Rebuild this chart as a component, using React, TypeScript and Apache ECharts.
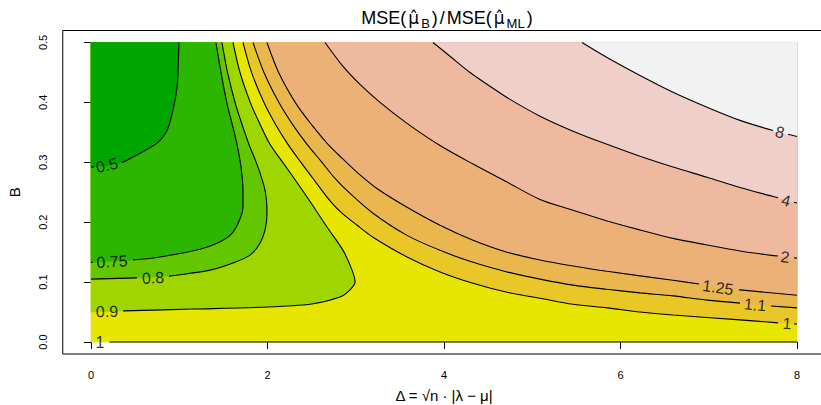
import React, { useEffect, useRef } from "react";
import * as echarts from "echarts";

const FONT = "'Liberation Sans', Arial, Helvetica, sans-serif";
const MARK_FONT = "'DejaVu Sans', 'Liberation Sans', sans-serif";

// Axis definitions (data units)
const X_RANGE: [number, number] = [0, 8];
const Y_RANGE: [number, number] = [0, 0.5];
const X_TICKS = [0, 2, 4, 6, 8];
const Y_TICKS = [0, 0.1, 0.2, 0.3, 0.4, 0.5];

// Contour levels and the terrain colours of the 11 bands between them
const LEVELS = [0.5, 0.75, 0.8, 0.9, 1, 1.1, 1.25, 2, 4, 8];
const BAND_COLORS = [
  "#00A600", "#2DB600", "#63C600", "#A0D600", "#E6E600",
  "#E8C727", "#EAB64E", "#ECB176", "#EEB99F", "#F0CFC8", "#F2F2F2",
];

type P = [number, number];

// Contour lines, [Delta, B]
const CONTOUR_050: P[] = [[0.997, 0.5], [0.986, 0.453], [0.975, 0.425], [0.929, 0.387], [0.861, 0.353], [0.748, 0.332], [0.555, 0.315], [0.363, 0.3], [0.18, 0.294], [0, 0.292]];
const CONTOUR_075: P[] = [[1.416, 0.5], [1.473, 0.45], [1.541, 0.398], [1.603, 0.362], [1.654, 0.33], [1.7, 0.292], [1.722, 0.253], [1.722, 0.225], [1.666, 0.198], [1.575, 0.178], [1.428, 0.165], [1.235, 0.155], [0.782, 0.142], [0.476, 0.137], [0, 0.133]];
const CONTOUR_080: P[] = [[1.484, 0.5], [1.547, 0.45], [1.636, 0.398], [1.714, 0.362], [1.79, 0.33], [1.892, 0.292], [1.972, 0.253], [1.994, 0.215], [1.972, 0.187], [1.915, 0.165], [1.802, 0.145], [1.609, 0.132], [1.348, 0.12], [0.895, 0.11], [0.521, 0.107], [0, 0.105]];
const CONTOUR_090: P[] = [[1.609, 0.5], [1.688, 0.45], [1.81, 0.398], [1.92, 0.362], [2.028, 0.33], [2.221, 0.29], [2.448, 0.242], [2.674, 0.192], [2.856, 0.153], [2.958, 0.12], [2.992, 0.1], [2.935, 0.087], [2.822, 0.075], [2.482, 0.063], [1.915, 0.058], [1.156, 0.055], [0.363, 0.052], [0, 0.05]];
const CONTOUR_100: P[] = [[1.722, 0.5], [1.819, 0.45], [1.965, 0.398], [2.096, 0.362], [2.232, 0.33], [2.368, 0.302], [2.516, 0.273], [2.674, 0.242], [2.822, 0.218], [3.014, 0.195], [3.195, 0.175], [3.581, 0.142], [3.955, 0.117], [4.329, 0.098], [4.714, 0.083], [5.088, 0.073], [5.462, 0.063], [5.847, 0.057], [6.221, 0.05], [6.595, 0.045], [7.354, 0.037], [7.785, 0.032], [8, 0.03]];
const CONTOUR_100_BASE: P[] = [[0, 0], [8, 0]];
const CONTOUR_110: P[] = [[1.836, 0.5], [1.96, 0.45], [2.136, 0.398], [2.289, 0.362], [2.448, 0.33], [2.606, 0.302], [2.754, 0.275], [2.935, 0.248], [3.195, 0.215], [3.581, 0.178], [3.955, 0.153], [4.329, 0.133], [4.714, 0.117], [5.088, 0.105], [5.462, 0.095], [5.847, 0.088], [6.221, 0.082], [6.595, 0.077], [6.98, 0.07], [7.354, 0.065], [7.705, 0.06], [8, 0.057]];
const CONTOUR_125: P[] = [[1.994, 0.5], [2.126, 0.45], [2.323, 0.398], [2.504, 0.362], [2.686, 0.33], [2.844, 0.307], [3.025, 0.282], [3.252, 0.255], [3.581, 0.225], [3.955, 0.195], [4.329, 0.17], [4.714, 0.15], [5.088, 0.137], [5.462, 0.127], [5.847, 0.118], [6.595, 0.103], [7.354, 0.087], [8, 0.078]];
const CONTOUR_200: P[] = [[2.652, 0.5], [2.856, 0.46], [3.048, 0.43], [3.275, 0.4], [3.581, 0.365], [3.955, 0.328], [4.329, 0.297], [4.714, 0.267], [5.088, 0.238], [5.462, 0.22], [5.847, 0.202], [6.221, 0.187], [6.595, 0.173], [6.98, 0.162], [7.354, 0.152], [7.694, 0.145], [8, 0.14]];
const CONTOUR_400: P[] = [[3.875, 0.5], [4.068, 0.477], [4.295, 0.45], [4.521, 0.427], [4.748, 0.405], [5.088, 0.377], [5.462, 0.352], [5.847, 0.33], [6.221, 0.31], [6.595, 0.292], [6.98, 0.275], [7.354, 0.258], [7.728, 0.243], [8, 0.232]];
const CONTOUR_800: P[] = [[5.564, 0.5], [5.847, 0.475], [6.221, 0.445], [6.595, 0.417], [6.98, 0.392], [7.354, 0.37], [7.728, 0.353], [8, 0.343]];

// Inline contour labels: level, text, position, and the gap they cut in the line
const CONTOUR_LABELS = [
  { level: 0.5, text: "0.5", x: 0.181, y: 0.295, gap: [0.034, 0.351] },
  { level: 0.75, text: "0.75", x: 0.238, y: 0.134, gap: [0.02, 0.476] },
  { level: 0.8, text: "0.8", x: 0.703, y: 0.107, gap: [0.521, 0.884] },
  { level: 0.9, text: "0.9", x: 0.181, y: 0.051, gap: [-0.1, 0.363] },
  { level: 1, text: "1", x: 0.102, y: 0.0, gap: [-0.1, 0.21] },
  { level: 1.25, text: "1.25", x: 7.105, y: 0.091, gap: [6.89, 7.343] },
  { level: 1.1, text: "1.1", x: 7.524, y: 0.062, gap: [7.354, 7.705] },
  { level: 1, text: "1", x: 7.887, y: 0.031, gap: [7.785, 7.97] },
  { level: 2, text: "2", x: 7.864, y: 0.142, gap: [7.785, 7.966] },
  { level: 4, text: "4", x: 7.875, y: 0.236, gap: [7.785, 7.966] },
  { level: 8, text: "8", x: 7.807, y: 0.35, gap: [7.728, 7.898] },
];

const CONTOURS: { level: number; pts: P[]; side: "low" | "high" | "none" }[] = [
  { level: 0.5, pts: CONTOUR_050, side: "low" },
  { level: 0.75, pts: CONTOUR_075, side: "low" },
  { level: 0.8, pts: CONTOUR_080, side: "low" },
  { level: 0.9, pts: CONTOUR_090, side: "low" },
  { level: 1, pts: CONTOUR_100, side: "high" },
  { level: 1, pts: CONTOUR_100_BASE, side: "none" },
  { level: 1.1, pts: CONTOUR_110, side: "high" },
  { level: 1.25, pts: CONTOUR_125, side: "high" },
  { level: 2, pts: CONTOUR_200, side: "high" },
  { level: 4, pts: CONTOUR_400, side: "high" },
  { level: 8, pts: CONTOUR_800, side: "high" },
];

// Layout
const W = 821;
const H = 405;
const X_PAD = 0.32;
const Y_PAD = 0.02;
const GRID = { left: 62.76, top: 30.5, width: 762.5, height: 323.5 };
const PX_X = GRID.width / (X_RANGE[1] - X_RANGE[0] + 2 * X_PAD);
const PX_Y = GRID.height / (Y_RANGE[1] - Y_RANGE[0] + 2 * Y_PAD);

function lerp(a: P, b: P, t: number): P {
  return [a[0] + (b[0] - a[0]) * t, a[1] + (b[1] - a[1]) * t];
}

function cutCurve(pts: P[], gaps: { x0: number; x1: number; y: number }[]): P[][] {
  const inGap = (p: P) => gaps.some((g) => p[0] > g.x0 && p[0] < g.x1 && Math.abs(p[1] - g.y) < 0.02);
  const pieces: P[][] = [];
  let cur: P[] = [];
  for (let i = 1; i < pts.length; i++) {
    const a = pts[i - 1];
    const b = pts[i];
    const ts = [0, 1];
    const dx = b[0] - a[0];
    for (const g of gaps) {
      for (const gx of [g.x0, g.x1]) {
        if (dx !== 0) {
          const t = (gx - a[0]) / dx;
          if (t > 1e-6 && t < 1 - 1e-6) ts.push(t);
        }
      }
    }
    ts.sort((u, v) => u - v);
    for (let j = 1; j < ts.length; j++) {
      if (ts[j] - ts[j - 1] < 1e-9) continue;
      const pa = lerp(a, b, ts[j - 1]);
      const pb = lerp(a, b, ts[j]);
      const mid = lerp(a, b, (ts[j - 1] + ts[j]) / 2);
      if (inGap(mid)) {
        if (cur.length > 1) pieces.push(cur);
        cur = [];
      } else {
        if (cur.length === 0) cur.push(pa);
        cur.push(pb);
      }
    }
  }
  if (cur.length > 1) pieces.push(cur);
  return pieces;
}

function labelRotation(lab: { level: number; x: number; y: number }): number {
  let best = 0;
  let bestDist = Infinity;
  for (const c of CONTOURS) {
    if (c.level !== lab.level) continue;
    for (let i = 1; i < c.pts.length; i++) {
      const a = c.pts[i - 1];
      const b = c.pts[i];
      const lo = Math.min(a[0], b[0]);
      const hi = Math.max(a[0], b[0]);
      if (lab.x < lo - 1e-9 || lab.x > hi + 1e-9) continue;
      const d = Math.abs((a[1] + b[1]) / 2 - lab.y);
      if (d < bestDist) {
        bestDist = d;
        const l = a[0] <= b[0] ? a : b;
        const r = a[0] <= b[0] ? b : a;
        const sdx = (r[0] - l[0]) * PX_X;
        const sdy = (r[1] - l[1]) * PX_Y;
        best = (Math.atan2(sdy, sdx) * 180) / Math.PI;
      }
    }
  }
  return best;
}

function buildOption(): any {
  // Fill polygons painted in order (later ones on top)
  const fills: { color: string; pts: P[] }[] = [];
  fills.push({
    color: BAND_COLORS[LEVELS.indexOf(1)],
    pts: [[X_RANGE[0], Y_RANGE[0]], [X_RANGE[1], Y_RANGE[0]], [X_RANGE[1], Y_RANGE[1]], [X_RANGE[0], Y_RANGE[1]]],
  });
  CONTOURS.filter((c) => c.side === "high")
    .sort((a, b) => a.level - b.level)
    .forEach((c) => {
      fills.push({ color: BAND_COLORS[LEVELS.indexOf(c.level) + 1], pts: [...c.pts, [X_RANGE[1], Y_RANGE[1]]] });
    });
  CONTOURS.filter((c) => c.side === "low")
    .sort((a, b) => b.level - a.level)
    .forEach((c) => {
      fills.push({ color: BAND_COLORS[LEVELS.indexOf(c.level)], pts: [...c.pts, [X_RANGE[0], Y_RANGE[1]]] });
    });

  const lineSeries: any[] = [];
  CONTOURS.forEach((c) => {
    const gaps = CONTOUR_LABELS.filter((l) => l.level === c.level).map((l) => ({ x0: l.gap[0], x1: l.gap[1], y: l.y }));
    cutCurve(c.pts, gaps).forEach((piece) => {
      lineSeries.push({
        type: "line",
        data: piece,
        symbol: "none",
        showSymbol: false,
        smooth: 0.3,
        silent: true,
        lineStyle: { color: "#000", width: 1.1 },
        z: 3,
      });
    });
  });

  return {
    animation: false,
    backgroundColor: "#fff",
    grid: {
      left: GRID.left,
      top: GRID.top,
      width: GRID.width,
      height: GRID.height,
      show: true,
      borderColor: "#000",
      borderWidth: 1,
      backgroundColor: "transparent",
      containLabel: false,
      outerBoundsMode: "none",
    },
    xAxis: {
      type: "value",
      min: X_RANGE[0] - X_PAD,
      max: X_RANGE[1] + X_PAD,
      axisLine: { show: false },
      splitLine: { show: false },
      axisTick: { show: true, length: 7, customValues: X_TICKS, lineStyle: { color: "#000", width: 1 } },
      axisLabel: { customValues: X_TICKS, fontSize: 11, color: "#000", fontFamily: FONT, margin: 15 },
      name: "Δ = √n · |λ − μ|",
      nameLocation: "middle",
      nameGap: 34,
      nameTextStyle: { fontSize: 15, color: "#000", fontFamily: FONT },
    },
    yAxis: {
      type: "value",
      min: Y_RANGE[0] - Y_PAD,
      max: Y_RANGE[1] + Y_PAD,
      axisLine: { show: false },
      splitLine: { show: false },
      axisTick: { show: true, length: 7, customValues: Y_TICKS, lineStyle: { color: "#000", width: 1 } },
      axisLabel: {
        customValues: Y_TICKS,
        rotate: 90,
        fontSize: 11,
        color: "#000",
        fontFamily: FONT,
        margin: 14,
        formatter: (v: number) => v.toFixed(1),
      },
      name: "B",
      nameLocation: "middle",
      nameRotate: 90,
      nameGap: 41,
      nameTextStyle: { fontSize: 15, color: "#000", fontFamily: FONT },
    },
    graphic: [
      {
        type: "text",
        x: 447,
        y: 18,
        z: 10,
        style: {
          text: "{a|MSE(}{m|μ̂}{b|B}{a|)}{s|/}{a|MSE(}{m|μ̂}{b|ML}{a|)}",
          align: "center",
          verticalAlign: "middle",
          rich: {
            a: { fontSize: 18, fontFamily: FONT, fill: "#000", lineHeight: 24 },
            s: { fontSize: 18, fontFamily: FONT, fill: "#000", lineHeight: 24, padding: [0, 2, 0, 2] },
            m: { fontSize: 17, fontFamily: MARK_FONT, fill: "#000", lineHeight: 24, padding: [0, 1, 0, 2] },
            b: { fontSize: 13, fontFamily: FONT, fill: "#000", lineHeight: 14, verticalAlign: "bottom", padding: [0, 2, 0, 1] },
          },
        },
      },
    ],
    series: [
      {
        type: "custom",
        coordinateSystem: "cartesian2d",
        silent: true,
        clip: true,
        z: 1,
        data: fills.map(() => [0, 0]),
        renderItem: (params: any, api: any) => {
          const f = fills[params.dataIndex];
          return {
            type: "polygon",
            shape: { points: f.pts.map((p) => api.coord(p)) },
            style: { fill: f.color, stroke: f.color, lineWidth: 0.6 },
          };
        },
      },
      ...lineSeries,
      {
        type: "scatter",
        symbolSize: 0,
        silent: true,
        z: 5,
        data: CONTOUR_LABELS.map((l) => ({
          value: [l.x, l.y],
          label: { show: true, formatter: l.text, rotate: labelRotation(l) },
        })),
        label: { show: true, position: "inside", fontSize: 16, color: "#000", fontFamily: FONT },
      },
    ],
  };
}

export default function App() {
  const ref = useRef<HTMLDivElement>(null);
  useEffect(() => {
    if (!ref.current) return;
    const chart = echarts.init(ref.current, undefined, { renderer: "svg" });
    chart.setOption(buildOption());
    return () => chart.dispose();
  }, []);
  return (
    <div
      ref={ref}
      style={{ position: "fixed", left: 0, top: 0, width: W, height: H, background: "#fff" }}
    />
  );
}
